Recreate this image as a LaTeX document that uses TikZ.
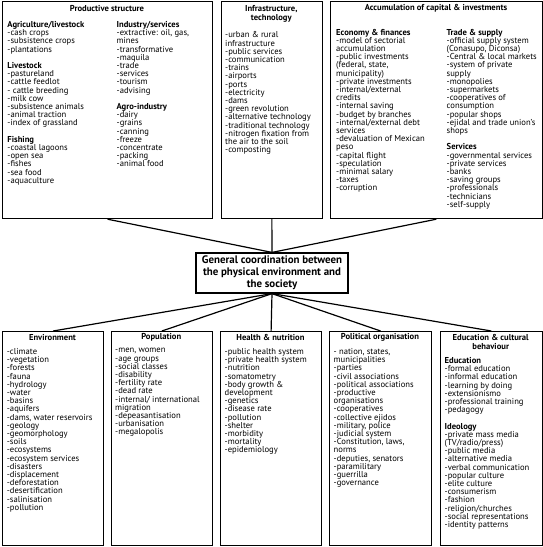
\documentclass[tikz,border=0pt]{standalone}
\usepackage{fontspec}
\setmainfont{PT Sans}

\begin{document}
\begin{tikzpicture}[x=1pt,y=-1pt,
  box/.style={draw, line width=1.2pt, inner sep=0pt, anchor=north west},
  head/.style={font=\bfseries\fontsize{8.6}{8.6}\selectfont, inner sep=0pt, align=center},
  list/.style={font=\fontsize{8.6}{8.2}\selectfont, inner sep=0pt, align=left, anchor=north west},
  link/.style={line width=1.2pt}]
\useasboundingbox (0,0) rectangle (543,547);

% top row
\node[box, minimum width=210pt, minimum height=217pt] (prod) at (2,1) {};
\node[box, minimum width=101.5pt, minimum height=217pt] (infra) at (220.5,1) {};
\node[box, minimum width=211.5pt, minimum height=217pt] (accum) at (330,1) {};

\node[head] (prodhead) at (107,8) {Productive structure};
\node[list] (prodleft) at (7.3,21.2) {\textbf{Agriculture/livestock}\\-cash crops\\-subsistence crops\\-plantations\\[8.2pt]
\textbf{Livestock}\\-pastureland\\-cattle feedlot\\- cattle breeding\\-milk cow\\-subsistence animals\\-animal traction\\-index of grassland\\[8.2pt]
\textbf{Fishing}\\-coastal lagoons\\-open sea\\-fishes\\-sea food\\-aquaculture};
\node[list] (prodright) at (116.5,21.2) {\textbf{Industry/services}\\-extractive: oil, gas,\\mines\\-transformative\\-maquila\\-trade\\-services\\-tourism\\-advising\\[8.2pt]
\textbf{Agro-industry}\\-dairy\\-grains\\-canning\\-freeze\\-concentrate\\-packing\\-animal food};

\node[head] (infrahead) at (271.25,13.7) {Infrastructure,\\technology};
\node[list] (infralist) at (225,31.5) {-urban \& rural\\infrastructure\\-public services\\-communication\\-trains\\-airports\\-ports\\-electricity\\-dams\\-green revolution\\-alternative technology\\-traditional technology\\-nitrogen fixation from\\the air to the soil\\-composting};

\node[head] (accumhead) at (436,8) {Accumulation of capital \& investments};
\node[list] (accumleft) at (336,28.7) {\textbf{Economy \& finances}\\-model of sectorial\\accumulation\\-public investments\\(federal, state,\\municipality)\\-private investments\\-internal/external\\credits\\-internal saving\\-budget by branches\\-internal/external debt\\services\\-devaluation of Mexican\\peso\\-capital flight\\-speculation\\-minimal salary\\-taxes\\-corruption};
\node[list] (accumright) at (446.5,28.7) {\textbf{Trade \& supply}\\-official supply system\\(Conasupo, Diconsa)\\-Central \& local markets\\-system of private\\supply\\-monopolies\\-supermarkets\\-cooperatives of\\consumption\\-popular shops\\-ejidal and trade union's\\shops\\[8.2pt]
\textbf{Services}\\-governmental services\\-private services\\-banks\\-saving groups\\-professionals\\-technicians\\-self-supply};

% centre
\node[draw, line width=1.2pt, inner sep=0pt, minimum width=152pt, minimum height=40pt, align=center,
  font=\bfseries\fontsize{10.9}{12}\selectfont] (coord) at (272,273) {General coordination between\\the physical environment and\\the society};

% bottom row
\node[box, minimum width=101pt, minimum height=214pt] (env) at (2,331) {};
\node[box, minimum width=101.5pt, minimum height=214pt] (pop) at (110.5,331) {};
\node[box, minimum width=101pt, minimum height=214pt] (health) at (220,331) {};
\node[box, minimum width=102pt, minimum height=214pt] (polit) at (329,331) {};
\node[box, minimum width=101.5pt, minimum height=214pt] (educ) at (440,331) {};

\node[head] (envhead) at (52.5,337.5) {Environment};
\node[head] (pophead) at (161.25,337.5) {Population};
\node[head] (healthhead) at (270.5,337.5) {Health \& nutrition};
\node[head] (polithead) at (380,337.5) {Political organisation};
\node[head] (educhead) at (490.75,341.7) {Education \& cultural\\behaviour};

\node[list] (envlist) at (6.7,348.2) {-climate\\-vegetation\\-forests\\-fauna\\-hydrology\\-water\\-basins\\-aquifers\\-dams, water reservoirs\\-geology\\-geomorphology\\-soils\\-ecosystems\\-ecosystem services\\-disasters\\-displacement\\-deforestation\\-desertification\\-salinisation\\-pollution};
\node[list] (poplist) at (115,348.2) {-men, women\\-age groups\\-social classes\\-disability\\-fertility rate\\-dead rate\\-internal/ international\\migration\\-depeasantisation\\-urbanisation\\-megalopolis};
\node[list] (healthlist) at (224.5,348.2) {-public health system\\-private health system\\-nutrition\\-somatometry\\-body growth \&\\development\\-genetics\\-disease rate\\-pollution\\-shelter\\-morbidity\\-mortality\\-epidemiology};
\node[list] (politlist) at (333.5,348.2) {- nation, states,\\municipalities\\-parties\\-civil associations\\-political associations\\-productive\\organisations\\-cooperatives\\-collective ejidos\\-military, police\\-judicial system\\-Constitution, laws,\\norms\\-deputies, senators\\-paramilitary\\-guerrilla\\-governance};
\node[list] (educlist) at (444.5,357.2) {\textbf{Education}\\-formal education\\-informal education\\-learning by doing\\-extensionismo\\-professional training\\-pedagogy\\[8.2pt]
\textbf{Ideology}\\-private mass media\\(TV/radio/press)\\-public media\\-alternative media\\-verbal communication\\-popular culture\\-elite culture\\-consumerism\\-fashion\\-religion/churches\\-social representations\\-identity patterns};

% connectors
\draw[link] (prod.south) -- (coord.north);
\draw[link] (infra.south) -- (coord.north);
\draw[link] (accum.south) -- (coord.north);
\draw[link] (coord.south) -- (env.north);
\draw[link] (coord.south) -- (pop.north);
\draw[link] (coord.south) -- (health.north);
\draw[link] (coord.south) -- (polit.north);
\draw[link] (coord.south) -- (educ.north);
\end{tikzpicture}
\end{document}
